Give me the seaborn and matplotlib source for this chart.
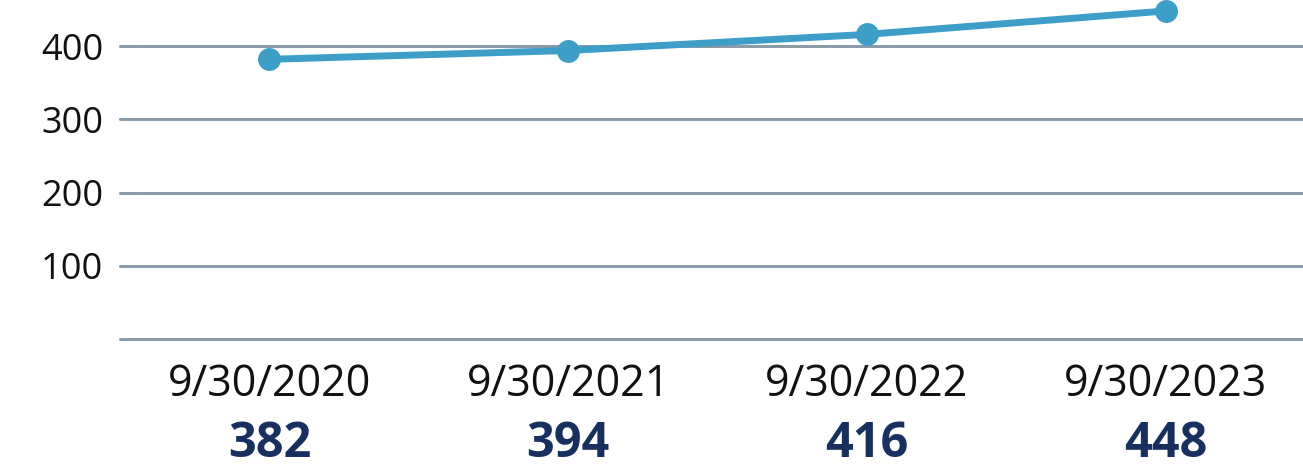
import matplotlib
matplotlib.use('Agg')
import matplotlib.pyplot as plt
import matplotlib.transforms as mtransforms
import seaborn as sns
import pandas as pd

dates = ['9/30/2020', '9/30/2021', '9/30/2022', '9/30/2023']
values = [382, 394, 416, 448]
yticks = [100, 200, 300, 400]

sns.set_style('white')
plt.rcParams['font.family'] = ['Open Sans', 'DejaVu Sans']

df = pd.DataFrame({'date': dates, 'value': values})

fig = plt.figure(figsize=(13.03, 4.69), dpi=100)
ax = fig.add_axes([120 / 1303, 1 - 339 / 469, 1183 / 1303, 339 / 469])

grid_color = '#8b9ba7'
for y in [0] + yticks:
    ax.axhline(y, color=grid_color, lw=2.2, zorder=1, clip_on=False)

sns.lineplot(data=df, x='date', y='value', ax=ax, color='#3d9fc8', lw=5,
             marker='o', markersize=16.5, markeredgewidth=0, zorder=3, sort=False)

ax.set_xlim(-0.5, 3.46)
ax.set_ylim(0, 463)
ax.set_yticks(yticks)
ax.set_yticklabels([str(t) for t in yticks], fontsize=26, color='#111111')
ax.tick_params(axis='y', length=0, pad=12)
ax.set_xticks([])
ax.set_xlabel('')
ax.set_ylabel('')
for s in ax.spines.values():
    s.set_visible(False)

trans = mtransforms.blended_transform_factory(ax.transData, fig.transFigure)
for i, (d, v) in enumerate(zip(dates, values)):
    ax.text(i, 1 - 385 / 469, d, transform=trans, ha='center', va='center',
            fontsize=31, color='#111111')
    ax.text(i, 1 - 444 / 469, str(v), transform=trans, ha='center', va='center',
            fontsize=35, fontweight='bold', color='#17305f')

fig.savefig('out.png', dpi=100)
